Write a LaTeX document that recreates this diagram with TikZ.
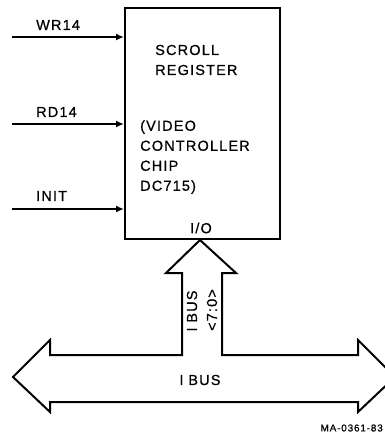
\documentclass[tikz,border=0pt]{standalone}
\usepackage{fontspec}
\setmainfont{Liberation Sans}[LetterSpace=8, FakeBold=0.6]
\usetikzlibrary{arrows.meta}
\begin{document}
\begin{tikzpicture}[x=1pt,y=-1pt,
  lbl/.style={font=\fontsize{14.5}{20}\selectfont, inner sep=0pt, anchor=west, align=left},
  inarrow/.style={line width=1.7pt, -{Latex[length=8pt,width=7pt]}},
  busline/.style={line width=2pt, line join=miter}]
\useasboundingbox (0,0) rectangle (385,437);
\clip (0,0) rectangle (385,437);
% register box
\node[draw, line width=2pt, minimum width=155pt, minimum height=231pt, inner sep=0pt]
  (reg) at (202.5,123.5) {};
\node[lbl] (t1) at (155,60) {SCROLL\\REGISTER};
\node[lbl] (t2) at (140,157) {(VIDEO\\CONTROLLER\\CHIP\\DC715)};
\node[lbl, anchor=center] (io) at (201,228) {I/O};
% inputs
\coordinate (w1) at (12,37);
\coordinate (w2) at (12,124);
\coordinate (w3) at (12,209);
\draw[inarrow] (w1) -- (reg.west |- w1);
\draw[inarrow] (w2) -- (reg.west |- w2);
\draw[inarrow] (w3) -- (reg.west |- w3);
\node[lbl] (l1) at (36,25) {WR14};
\node[lbl] (l2) at (36,112) {RD14};
\node[lbl] (l3) at (36,196) {INIT};
% bus shape
\draw[busline] (reg.south -| 200,0) -- (236,273) -- (222,273) -- (222,355) -- (358,355)
  -- (358,340) -- (395,377) -- (358,412) -- (358,402) -- (50,402) -- (50,412)
  -- (13,377) -- (50,340) -- (50,355) -- (182,355) -- (182,273) -- (166,273) -- cycle;
\node[lbl, anchor=center, rotate=90] (vb1) at (192,311) {I\,\,BUS};
\node[lbl, anchor=center, rotate=90] (vb2) at (212,310) {<7:0>};
\node[lbl, anchor=center] (hb) at (200,380) {I\,\,BUS};
\node[font=\fontsize{10}{12}\selectfont, inner sep=0pt, anchor=east] (ma) at (383,428) {MA-0361-83};
\end{tikzpicture}
\end{document}
